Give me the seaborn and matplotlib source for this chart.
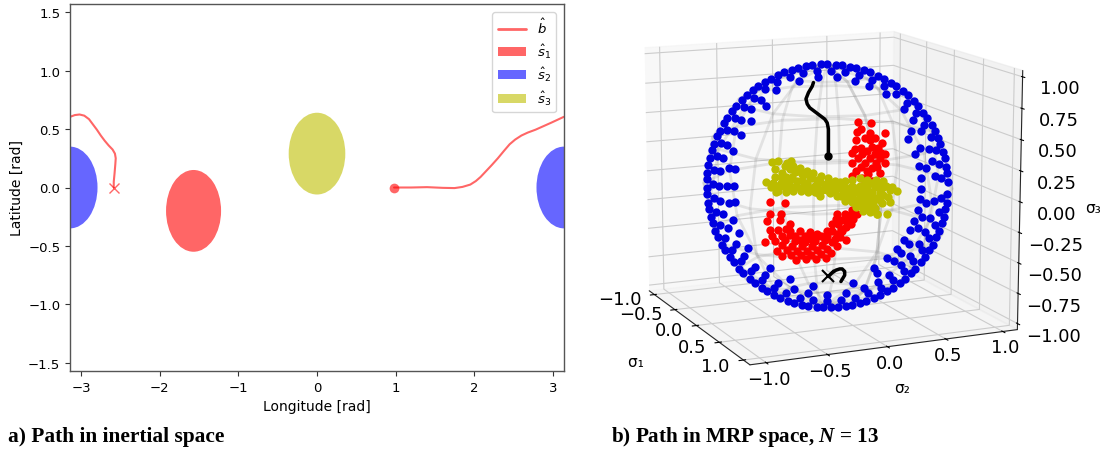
import numpy as np
import matplotlib
matplotlib.use("Agg")
import matplotlib.pyplot as plt
from matplotlib.patches import Ellipse, Patch
from matplotlib.lines import Line2D
import seaborn as sns

sns.set_style("ticks")
plt.rcParams['font.family'] = ['DejaVu Sans']
plt.rcParams['text.color'] = 'black'
plt.rcParams['axes.labelcolor'] = 'black'
plt.rcParams['xtick.color'] = 'black'
plt.rcParams['ytick.color'] = 'black'
plt.rcParams['mathtext.fontset'] = 'custom'
plt.rcParams['mathtext.rm'] = 'DejaVu Sans'
plt.rcParams['mathtext.it'] = 'DejaVu Sans:italic'
plt.rcParams['mathtext.bf'] = 'DejaVu Sans:bold'
plt.rcParams['mathtext.bfit'] = 'Liberation Serif:italic:bold'

# ---- left panel values (radians)
path_a_lon = [0.98,1.2,1.4,1.6,1.75,1.85,1.95,2.02,2.08,2.15,2.22,2.3,2.38,2.45,2.52,2.6,2.68,2.78,2.88,2.98,3.06,3.14]
path_a_lat = [0,0,.003,-.003,-.005,.005,.025,.055,.09,.14,.19,.25,.315,.37,.41,.445,.47,.495,.525,.555,.58,.605]
path_b_lon = [-3.14,-3.08,-3.02,-2.96,-2.9,-2.85,-2.8,-2.75,-2.7,-2.65,-2.6,-2.57,-2.56,-2.565,-2.575,-2.585,-2.585]
path_b_lat = [.605,.62,.625,.615,.585,.54,.495,.445,.4,.36,.325,.29,.25,.2,.12,.05,0]
cone_lon = [-1.57, 3.1416, -3.1416, 0.0]
cone_lat = [-0.20, 0.0, 0.0, 0.29]
cone_w = [0.70, 0.70, 0.70, 0.72]
cone_h = [0.70, 0.70, 0.70, 0.70]
cone_col = ['#ff0000', '#0000ff', '#0000ff', '#bfbf00']
x_ticks = [-3, -2, -1, 0, 1, 2, 3]
y_ticks = [-1.5, -1.0, -0.5, 0.0, 0.5, 1.0, 1.5]

# ---- right panel values, read in the plane through the sphere centre
blue_outer = [2,6,9,13,16,20,23,27,30,34,37,41,44,48,51,55,58,62,65,69,72,76,79,83,86,90,93,97,100,104,107,111,114,118,121,125,128,132,135,139,142,146,149,153,156,160,163,167,170,174,177,181,184,188,191,195,198,202,205,209,212,216,219,223,226,230,233,237,240,244,247,251,254,258,261,265,268,272,275,279,282,286,289,293,296,300,303,307,310,314,317,321,324,328,331,335,338,342,345,349,352,356]
blue_r2 = [4,11,18,25,32,39,46,53,60,67,74,81,88,95,102,109,116,123,130,137,144,151,158,165,172,179,186,193,200,207,214,221,228,235,242,249,256,263,270,277,284,291,298,305,312,319,326,333,340,347,354]
blue_mid = [5,13,20,30,37,45,57,67,75,85,95,105,118,128,135,143,150,158,165,172,180,188,195,203,212,220,228,235,243,252,260,270,280,290,298,305,313,320,328,335,343,352]
blue_inner = [10,22,33,128,140,150,160,170,180,190,200,208,218,235,248,262,285,300,312,318,325,335,342,350]
blue_core = [5,12,20,30,170,180,190,300,310,318,325,332,338,345,352,358]
blue_radius = [0.965, 0.915, 0.865, 0.80, 0.75]

red_u = [.25,.35,.24,.34,.46,.23,.34,.44,.22,.32,.43,.20,.28,.38,.46,.20,.30,.39,.46,.23,.32,.42,.20,.36,.43,
         -.46,-.34,-.46,-.37,-.48,-.38,-.30,-.46,-.39,-.30,-.22,-.14,-.08,0,.08,.04,.11,.18,.24,-.50,-.42,-.34,-.26,-.18,-.10,-.02,.06,.12,.19,
         -.40,-.32,-.24,-.16,-.08,0,.08,.15,-.25,-.17,-.09,-.01,-.30,-.22,-.13,-.05,.04,.11,-.33,
         -.44,-.36,-.26,-.18,-.09,0,.08,.15,.09,.15,.21,-.36,-.28,-.20,-.12,-.04,.04,.10,-.29,-.21,-.13,-.05,.03,-.36,.07,.14,.20,
         .27,.30,.38,.41,.36,.27,.25,.34,.42,.27,.36,.40,.28,.33]
red_v = [.51,.50,.43,.42,.42,.36,.36,.34,.29,.28,.26,.26,.25,.25,.25,.18,.18,.18,.18,.12,.12,.10,.08,.04,.02,
         -.13,-.14,-.22,-.22,-.28,-.27,-.30,-.35,-.35,-.36,-.36,-.37,-.38,-.36,-.22,-.30,-.27,-.23,-.22,-.45,-.44,-.43,-.44,-.45,-.44,-.43,-.42,-.36,-.30,
         -.52,-.51,-.52,-.52,-.51,-.50,-.48,-.43,-.59,-.58,-.58,-.57,-.39,-.43,-.42,-.40,-.36,-.34,-.34,
         -.40,-.40,-.40,-.40,-.41,-.40,-.38,-.33,-.30,-.28,-.26,-.47,-.48,-.48,-.48,-.47,-.45,-.41,-.55,-.55,-.55,-.54,-.53,-.56,-.26,-.22,-.19,
         .45,.38,.38,.30,.31,.30,.22,.22,.22,.15,.14,.15,.06,.09]
yellow_u = [-.44,-.39,-.29,-.34,-.42,-.30,-.24,-.18,-.36,-.28,-.20,-.12,-.06,0,-.10,-.04,.04,.10,.02,.08,.14,.20,.14,.20,.26,.30,.34,.26,.33,.38,.40,
            -.49,-.43,-.37,-.31,-.25,-.19,-.13,-.07,-.39,-.41,-.33,-.27,-.21,-.15,-.06,-.35,
            .10,.14,.20,.26,.32,.39,.45,.14,.20,.26,.32,.38,.44,.50,.56,.45,.49,.50,.39,.34,.28,.44,.40,.48,
            -.32,-.27,-.22,-.16,-.11,-.05,.01,.06,-.33,-.26,-.20,-.14,-.08,-.02,.03,.08,.13,.18,.23,-.16,-.08,0,.06,.11,.17,.23,.28,.23,.29,.35,.31,.37,.36,.42,.42,.37,.30,.24,.30,.36,.42,.47,.52,
            -.45,-.39,-.33,-.28,-.22,-.16,-.10,-.30,-.24,-.36,-.42,-.17]
yellow_v = [.19,.20,.20,.16,.13,.13,.12,.09,.10,.07,.05,.06,.03,.02,0,-.03,-.01,-.02,-.06,-.08,-.06,-.08,-.12,-.13,-.15,-.18,-.21,-.10,-.13,-.18,-.22,
            .03,.02,.02,.02,0,-.01,-.02,-.06,-.04,-.05,-.05,-.04,-.04,-.05,-.08,0,
            .03,.04,.05,.06,.05,.05,.04,-.01,0,0,-.01,-.01,-.02,-.03,-.04,-.07,-.09,-.13,-.10,-.06,-.05,-.14,-.22,-.22,
            .18,.16,.14,.12,.10,.08,.06,.04,.07,.11,.09,.07,.05,0,.02,.01,-.03,-.04,-.05,.02,0,-.03,-.05,-.08,-.10,-.11,-.13,-.17,-.20,-.17,-.10,-.10,-.05,-.06,-.11,-.14,-.05,-.02,.02,.02,.01,0,-.01,
            -.01,0,0,-.01,-.02,-.03,-.05,.05,.04,.06,.07,0]
path_top_u = [-.11,-.12,-.15,-.17,-.16,-.14,-.10,-.06,-.02,0,.01,.01,.01]
path_top_v = [.82,.79,.74,.69,.65,.62,.59,.56,.53,.50,.45,.35,.24]
path_low_u = [.01,.04,.07,.10,.12,.14,.14,.11]
path_low_v = [-.72,-.69,-.67,-.66,-.66,-.68,-.71,-.76]
ticks_12 = [-1.0, -0.5, 0.0, 0.5, 1.0]
ticks_3 = [-1.0, -0.75, -0.5, -0.25, 0.0, 0.25, 0.5, 0.75, 1.0]
labels_12 = ['\u22121.0', '\u22120.5', '0.0', '0.5', '1.0']
labels_3 = ['\u22121.00', '\u22120.75', '\u22120.50', '\u22120.25', '0.00', '0.25', '0.50', '0.75', '1.00']

ELEV, AZIM = 12.5, -24

def sigma(u, v):
    """Put values read in the view plane back into MRP coordinates."""
    e, a = np.radians(ELEV), np.radians(AZIM)
    u, v = np.asarray(u, float), np.asarray(v, float)
    s1 = -np.sin(a) * u - np.sin(e) * np.cos(a) * v
    s2 = np.cos(a) * u - np.sin(e) * np.sin(a) * v
    s3 = 1.03 * np.cos(e) * v
    return s1, s2, s3

fig = plt.figure(figsize=(11.08, 4.52), dpi=100)
W, H = 1108, 452
ax = fig.add_axes([70/W, 1-372/H, 494/W, 367/H])

RED = (1, 0, 0)
for lon, lat, w, h, c in zip(cone_lon, cone_lat, cone_w, cone_h, cone_col):
    ax.add_patch(Ellipse((lon, lat), w, h, facecolor=c, alpha=0.6, edgecolor='none'))
sns.lineplot(x=path_a_lon, y=path_a_lat, sort=False, estimator=None, color=RED, alpha=0.6, lw=1.5, ax=ax)
sns.lineplot(x=path_b_lon, y=path_b_lat, sort=False, estimator=None, color=RED, alpha=0.6, lw=1.5, ax=ax)
ax.plot(path_a_lon[:1], path_a_lat[:1], 'o', color=RED, alpha=0.6, ms=7, mew=0)
ax.plot(path_b_lon[-1:], path_b_lat[-1:], 'x', color=RED, alpha=0.6, ms=7, mew=1)
ax.set_xlim(-np.pi, np.pi)
ax.set_ylim(-np.pi/2, np.pi/2)
ax.set_xticks(x_ticks)
ax.set_yticks(y_ticks)
ax.tick_params(labelsize=9.5, length=3.5, width=0.8, color='#333333', pad=3.5)
ax.set_xlabel('Longitude [rad]', fontsize=10, labelpad=4)
ax.set_ylabel('Latitude [rad]', fontsize=10, labelpad=3)
for sp in ax.spines.values():
    sp.set_visible(True)
    sp.set_color('#555555')
    sp.set_linewidth(1.0)
handles = [Line2D([], [], color=RED, alpha=0.6, lw=2),
           Patch(color='#ff0000', alpha=0.6, lw=0),
           Patch(color='#0000ff', alpha=0.6, lw=0),
           Patch(color='#bfbf00', alpha=0.6, lw=0)]
ax.legend(handles, [r'$\hat{b}$', r'$\hat{s}_1$', r'$\hat{s}_2$', r'$\hat{s}_3$'],
          loc='upper right', fontsize=9.5, frameon=True, labelspacing=0.4, borderpad=0.4,
          handlelength=2.15, borderaxespad=0.6)

ax3 = fig.add_axes([572/W, 1-384/H, 500/W, 384/H], projection='3d', computed_zorder=False)
ax3.patch.set_alpha(0)
ax3.view_init(elev=ELEV, azim=AZIM)
ax3.set_box_aspect((1, 1, 0.91), zoom=1.2)
lim, zlim = 1.13, 1.05
ax3.set_xlim(-lim, lim); ax3.set_ylim(-lim, lim); ax3.set_zlim(-zlim, zlim)
ax3.set_xticks(ticks_12); ax3.set_yticks(ticks_12); ax3.set_zticks(ticks_3)
ax3.set_xticklabels(labels_12, ha='right', va='bottom')
ax3.set_yticklabels(labels_12)
ax3.set_zticklabels(labels_3)
ax3.tick_params(axis='x', labelsize=13, pad=-1)
ax3.tick_params(axis='y', labelsize=13, pad=-5)
ax3.tick_params(axis='z', labelsize=13, pad=5)
ax3.xaxis.set_rotate_label(False)
ax3.xaxis._axinfo['label'].update(ha='right', va='center')
ax3.set_xlabel('\u03c3\u2081    ', fontsize=11, labelpad=-3, rotation=0)
ax3.set_ylabel('\u03c3\u2082', fontsize=11, labelpad=-4)
ax3.set_zlabel('\u03c3\u2083', fontsize=11, labelpad=5)

th, ph = np.meshgrid(np.radians(np.linspace(0, 360, 13)), np.radians(np.linspace(0, 180, 9)))
ax3.plot_wireframe(np.sin(ph)*np.cos(th), np.sin(ph)*np.sin(th), np.cos(ph),
                   color='gray', alpha=0.18, lw=2, rstride=1, cstride=1, zorder=1)

for angles, r in zip([blue_outer, blue_r2, blue_mid, blue_inner, blue_core], blue_radius):
    ang = np.radians(angles)
    s1, s2, s3 = sigma(r*np.cos(ang), r*np.sin(ang))
    ax3.scatter(s1, s2, s3, color='#0000e0', s=36, depthshade=False, lw=0, zorder=2)
s1, s2, s3 = sigma(red_u, red_v)
ax3.scatter(s1, s2, s3, color='#ff0000', s=36, depthshade=False, lw=0, zorder=3)
s1, s2, s3 = sigma(yellow_u, yellow_v)
ax3.scatter(s1, s2, s3, color='#bcbc00', s=36, depthshade=False, lw=0, zorder=4)
s1, s2, s3 = sigma(path_top_u, path_top_v)
ax3.plot(s1, s2, s3, color='k', lw=2.5, zorder=5)
ax3.plot(s1[-1:], s2[-1:], s3[-1:], 'o', color='k', ms=5, zorder=6)
s1, s2, s3 = sigma(path_low_u, path_low_v)
ax3.plot(s1, s2, s3, color='k', lw=2.5, zorder=5)
ax3.plot(s1[:1], s2[:1], s3[:1], 'x', color='k', ms=9, mew=1.5, zorder=6)

fig.text(8/W, 1-437/H, 'a) Path in inertial space', family='Liberation Serif', weight='bold', fontsize=15.4, va='center')
fig.text(611/W, 1-437/H, r'b) Path in MRP space, $\mathbfit{N}$ = 13', family='Liberation Serif', weight='bold', fontsize=15.2, va='center')
fig.savefig('out.png', dpi=100)
